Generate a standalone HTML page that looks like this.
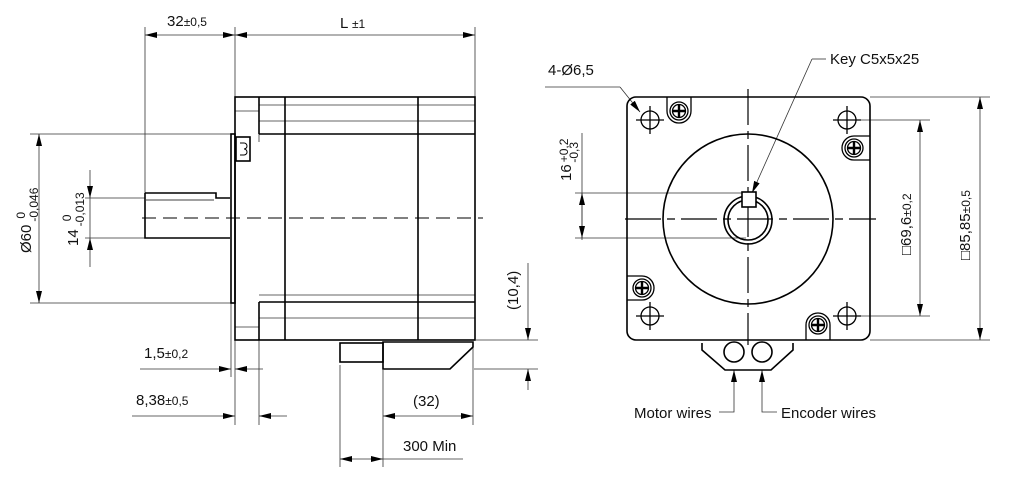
<!DOCTYPE html>
<html><head><meta charset="utf-8"><style>
html,body{margin:0;padding:0;background:#fff;}
svg{display:block;font-family:"Liberation Sans","DejaVu Sans",sans-serif;}
</style></head><body>
<svg width="1011" height="480" viewBox="0 0 1011 480" xmlns="http://www.w3.org/2000/svg">
<defs>
<marker id="a" viewBox="0 0 12 6" refX="12" refY="3" markerWidth="12" markerHeight="6" markerUnits="userSpaceOnUse" orient="auto-start-reverse"><path d="M0,0L12,3L0,6Z" fill="#000"/></marker>
</defs>
<g fill="none" stroke="#000">
<g stroke-width="0.8" stroke="#333">
<line x1="145" y1="27" x2="145" y2="193"/>
<line x1="235" y1="27" x2="235" y2="97"/>
<line x1="475" y1="27" x2="475" y2="97"/>
<line x1="145" y1="35" x2="235" y2="35" marker-start="url(#a)" marker-end="url(#a)"/>
<line x1="235" y1="35" x2="475" y2="35" marker-start="url(#a)" marker-end="url(#a)"/>
<line x1="30" y1="134" x2="231" y2="134"/>
<line x1="30" y1="303" x2="231" y2="303"/>
<line x1="39" y1="134" x2="39" y2="303" marker-start="url(#a)" marker-end="url(#a)"/>
<line x1="85" y1="198" x2="145" y2="198"/>
<line x1="85" y1="238" x2="145" y2="238"/>
<line x1="90" y1="170" x2="90" y2="198" marker-end="url(#a)"/>
<line x1="90" y1="267" x2="90" y2="238" marker-end="url(#a)"/>
<line x1="90" y1="198" x2="90" y2="238"/>
<line x1="231" y1="303" x2="231" y2="377"/>
<line x1="235" y1="340" x2="235" y2="425"/>
<line x1="259" y1="340" x2="259" y2="425"/>
<line x1="340" y1="365" x2="340" y2="467"/>
<line x1="383" y1="370" x2="383" y2="467"/>
<line x1="473" y1="345" x2="473" y2="425"/>
<line x1="140" y1="369" x2="231" y2="369" marker-end="url(#a)"/>
<line x1="263" y1="369" x2="235" y2="369" marker-end="url(#a)"/>
<line x1="132" y1="416" x2="235" y2="416" marker-end="url(#a)"/>
<line x1="287" y1="416" x2="259" y2="416" marker-end="url(#a)"/>
<line x1="383" y1="416" x2="473" y2="416" marker-start="url(#a)" marker-end="url(#a)"/>
<line x1="340" y1="459" x2="383" y2="459" marker-start="url(#a)" marker-end="url(#a)"/>
<line x1="383" y1="459" x2="463" y2="459"/>
<line x1="476" y1="340" x2="538" y2="340"/>
<line x1="474" y1="369" x2="538" y2="369"/>
<line x1="528" y1="263" x2="528" y2="340" marker-end="url(#a)"/>
<line x1="528" y1="390" x2="528" y2="369" marker-end="url(#a)"/>
<line x1="259" y1="105" x2="475" y2="105"/>
<line x1="259" y1="121" x2="475" y2="121"/>
<line x1="235" y1="111" x2="259" y2="111"/>
<line x1="259" y1="295" x2="475" y2="295"/>
<line x1="259" y1="318" x2="475" y2="318"/>
<line x1="235" y1="327" x2="259" y2="327"/>
<line x1="259" y1="134" x2="259" y2="142"/>
<line x1="545" y1="87" x2="620" y2="87"/>
<line x1="620" y1="87" x2="640" y2="112" marker-end="url(#a)"/>
<line x1="826" y1="59" x2="812" y2="59"/>
<line x1="812" y1="59" x2="752" y2="193" marker-end="url(#a)"/>
<line x1="575" y1="193" x2="742" y2="193"/>
<line x1="575" y1="238" x2="746" y2="238"/>
<line x1="582" y1="133" x2="582" y2="240"/>
<line x1="582" y1="193" x2="582" y2="238" marker-start="url(#a)" marker-end="url(#a)"/>
<line x1="860" y1="120" x2="930" y2="120"/>
<line x1="860" y1="316" x2="930" y2="316"/>
<line x1="920" y1="120" x2="920" y2="316" marker-start="url(#a)" marker-end="url(#a)"/>
<line x1="870" y1="97" x2="990" y2="97"/>
<line x1="870" y1="340" x2="990" y2="340"/>
<line x1="980" y1="97" x2="980" y2="340" marker-start="url(#a)" marker-end="url(#a)"/>
<line x1="734" y1="382" x2="734" y2="370" marker-end="url(#a)"/>
<polyline points="734,382 734,412 719,412"/>
<line x1="762" y1="382" x2="762" y2="370" marker-end="url(#a)"/>
<polyline points="762,382 762,412 777,412"/>
</g>
<line x1="142" y1="218" x2="483" y2="218" stroke-width="1" stroke-dasharray="14,7"/>
<line x1="748" y1="89" x2="748" y2="345" stroke-width="1.2" stroke-dasharray="36,6,8,6"/>
<line x1="625" y1="219" x2="876" y2="219" stroke-width="1.2" stroke-dasharray="36,6,8,6"/>
<g stroke-width="1.6">
<rect x="235" y="97" width="240" height="243"/>
<line x1="259" y1="97" x2="259" y2="134"/>
<line x1="259" y1="302" x2="259" y2="340"/>
<line x1="285" y1="97" x2="285" y2="340"/>
<line x1="418" y1="97" x2="418" y2="340"/>
<line x1="259" y1="134" x2="475" y2="134"/>
<line x1="259" y1="302" x2="475" y2="302"/>
<rect x="231" y="134" width="4" height="169"/>
<rect x="236" y="137" width="14" height="24"/>
<path d="M240,143 h4 a3,3 0 0 1 0,6 a3,3 0 0 1 0,6 h-4" stroke-width="1"/>
<path d="M145,193 H216 V198 H230 M145,193 V238 H230"/>
<line x1="146" y1="200" x2="214" y2="200" stroke-width="0.8"/>
<rect x="340" y="343" width="43" height="19"/>
<path d="M383,342 H473 V347 L450,369 H383 Z"/>
</g>
<g stroke-width="1.6">
<rect x="627" y="97" width="243" height="243" rx="9"/>
<circle cx="748" cy="219" r="85"/>
<circle cx="748" cy="220" r="24"/>
<circle cx="748" cy="220" r="20"/>
<rect x="742" y="192" width="14" height="15" fill="#fff"/>
<path d="M702,343 V350 L725,370 H771 L793,350 V343"/>
<circle cx="734" cy="352" r="10"/>
<circle cx="762" cy="352" r="10"/>
</g>
<g stroke-width="1.3">
<circle cx="650" cy="120" r="9"/><path d="M636,120h28M650,106v28"/>
<circle cx="847" cy="120" r="9"/><path d="M833,120h28M847,106v28"/>
<circle cx="650" cy="316" r="9"/><path d="M636,316h28M650,302v28"/>
<circle cx="847" cy="316" r="9"/><path d="M833,316h28M847,302v28"/>
<path d="M667,97 V111 A12,12 0 0 0 691,111 V97"/>
<circle cx="679" cy="111" r="9"/><circle cx="679" cy="111" r="6.5"/><path d="M673,111h12M679,105v12" stroke-width="2.4"/>
<path d="M870,136 H854 A12,12 0 0 0 854,160 H870"/>
<circle cx="854" cy="148" r="9"/><circle cx="854" cy="148" r="6.5"/><path d="M848,148h12M854,142v12" stroke-width="2.4"/>
<path d="M627,276 H642 A12,12 0 0 1 642,300 H627"/>
<circle cx="642" cy="288" r="9"/><circle cx="642" cy="288" r="6.5"/><path d="M636,288h12M642,282v12" stroke-width="2.4"/>
<path d="M806,340 V325 A12,12 0 0 1 830,325 V340"/>
<circle cx="818" cy="325" r="9"/><circle cx="818" cy="325" r="6.5"/><path d="M812,325h12M818,319v12" stroke-width="2.4"/>
</g>
</g>
<g fill="#111" font-size="15">
<text x="167" y="26">32<tspan font-size="12">±0,5</tspan></text>
<text x="340" y="28">L <tspan font-size="12">±1</tspan></text>
<text x="144" y="358">1,5<tspan font-size="12">±0,2</tspan></text>
<text x="136" y="405">8,38<tspan font-size="12">±0,5</tspan></text>
<text x="413" y="406">(32)</text>
<text x="403" y="451">300 Min</text>
<text transform="translate(31,253) rotate(-90)">Ø60<tspan font-size="12" dx="3" dy="7">-0,046</tspan><tspan font-size="12" dx="-31" dy="-13">0</tspan></text>
<text transform="translate(78,246) rotate(-90)">14<tspan font-size="12" dx="3" dy="6">-0,013</tspan><tspan font-size="12" dx="-29" dy="-13">0</tspan></text>
<text transform="translate(518,310) rotate(-90)">(10,4)</text>
<text x="548" y="75">4-Ø6,5</text>
<text x="830" y="64">Key C5x5x25</text>
<text transform="translate(571,181) rotate(-90)">16<tspan font-size="12" dx="2" dy="-3">+0,2</tspan><tspan font-size="12" dx="-24" dy="10">-0,3</tspan></text>
<text transform="translate(911,255) rotate(-90)">□69,6<tspan font-size="12">±0,2</tspan></text>
<text transform="translate(970,260) rotate(-90)">□85,85<tspan font-size="12">±0,5</tspan></text>
<text x="634" y="418">Motor wires</text>
<text x="781" y="418">Encoder wires</text>
</g>
</svg>
</body></html>
